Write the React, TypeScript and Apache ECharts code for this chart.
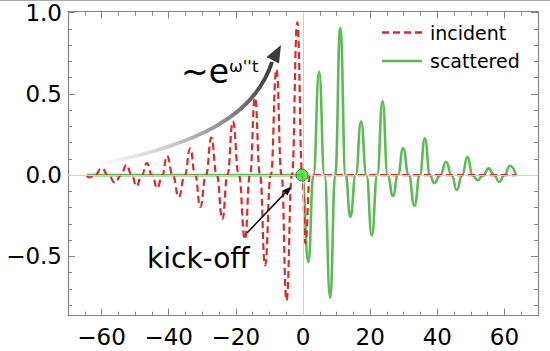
import React, { useEffect, useRef } from "react";
import * as echarts from "echarts";

// Incident wave (red dashed): read extremes / zero crossings from the picture
const incidentX = [-64.5, -63.6, -62.0, -60.0, -58.0, -56.0, -54.2, -52.6, -51.0, -49.6, -48.0, -46.5, -45.0, -43.4, -41.9, -40.5, -38.8, -37.0, -35.2, -33.6, -32.1, -30.6, -28.9, -27.3, -25.7, -24.0, -22.5, -20.9, -19.1, -17.3, -15.8, -14.3, -12.8, -11.3, -9.6, -7.9, -6.4, -4.9, -3.3, -1.7, -0.2, 0.7, 2.1, 3.5, 63.5];
const incidentY = [0, -0.015, 0, 0.042, 0, -0.047, 0, 0.062, 0, -0.068, 0, 0.074, 0, -0.08, 0, 0.118, 0, -0.135, 0, 0.165, 0, -0.196, 0, 0.23, 0, -0.27, 0, 0.33, 0, -0.395, 0, 0.475, 0, -0.555, 0, 0.65, 0, -0.77, 0, 0.94, 0, -0.42, 0, 0, 0];

// Scattered wave (green solid)
const scatteredX = [-64.3, -2.0, -0.3, 1.6, 3.1, 4.8, 6.4, 8.1, 9.6, 11.1, 12.7, 14.1, 15.7, 17.3, 18.9, 20.5, 22.1, 23.7, 25.2, 26.8, 28.3, 29.8, 31.5, 33.2, 34.8, 36.3, 37.8, 39.1, 40.9, 42.6, 44.3, 45.8, 47.4, 49.0, 50.5, 52.0, 53.7, 55.3, 56.9, 58.5, 60.0, 61.6, 63.5];
const scatteredY = [0, 0, 0, -0.535, 0, 0.635, 0, -0.755, 0, 0.905, 0, -0.257, 0, 0.33, 0, -0.372, 0, 0.455, 0, -0.128, 0, 0.165, 0, -0.19, 0, 0.226, 0, -0.05, 0, 0.082, 0, -0.093, 0, 0.113, 0, -0.031, 0, 0.041, 0, -0.041, 0, 0.057, 0];

// kick-off point
const kickX = [-0.3];
const kickY = [0];

// tick labels
const xTickLabels = [-60, -40, -20, 0, 20, 40, 60];
const yTickLabels = [-0.5, 0, 0.5, 1.0];

const legendNames = ["incident", "scattered"];

const FONT = "DejaVu Sans";
const AXIS_COLOR = "#858585";
const RED = "#d92b2b";
const GREEN = "#5dbb55";

export default function App() {
  const ref = useRef<HTMLDivElement>(null);
  useEffect(() => {
    if (!ref.current) return;
    const chart = echarts.init(ref.current, null, { renderer: "svg" });

    const xMinor: number[] = [];
    for (let v = -65; v <= 65; v += 5) xMinor.push(v);
    const yMinor: number[] = [];
    for (let i = -8; i <= 10; i++) yMinor.push(Math.round(i * 10) / 100);

    const fmtX = (v: number) => (v < 0 ? "\u2212" + Math.abs(v) : String(v));
    const fmtY = (v: number) => (v < 0 ? "\u2212" : "") + Math.abs(v).toFixed(1);

    const xBase = { type: "value", min: -70, max: 70, splitLine: { show: false } };
    const yBase = { type: "value", min: -0.865, max: 1.005, splitLine: { show: false } };

    const incData = incidentX.map((x, i) => [x, incidentY[i]]);
    const scaData = scatteredX.map((x, i) => [x, scatteredY[i]]);
    const kickData = kickX.map((x, i) => [x, kickY[i]]);

    chart.setOption({
      animation: false,
      backgroundColor: "#ffffff",
      textStyle: { fontFamily: FONT },
      grid: { left: 68, right: 12, top: 11.7, bottom: 35.3, outerBoundsMode: "none" },
      xAxis: [
        {
          ...xBase,
          position: "bottom",
          axisLine: { show: true, onZero: false, lineStyle: { color: AXIS_COLOR, width: 1.2 } },
          axisTick: { show: true, inside: true, length: 7, customValues: xTickLabels, lineStyle: { color: AXIS_COLOR } },
          axisLabel: { show: true, customValues: xTickLabels, formatter: fmtX, fontFamily: FONT, fontSize: 23, lineHeight: 20, color: "#000", margin: 11 },
        },
        {
          ...xBase,
          position: "bottom",
          axisLine: { show: false, onZero: false },
          axisTick: { show: true, inside: true, length: 4, customValues: xMinor, lineStyle: { color: AXIS_COLOR } },
          axisLabel: { show: false },
        },
        {
          ...xBase,
          position: "top",
          axisLine: { show: true, onZero: false, lineStyle: { color: AXIS_COLOR, width: 1.2 } },
          axisTick: { show: true, inside: true, length: 7, customValues: xTickLabels, lineStyle: { color: AXIS_COLOR } },
          axisLabel: { show: false },
        },
        {
          ...xBase,
          position: "top",
          axisLine: { show: false, onZero: false },
          axisTick: { show: true, inside: true, length: 4, customValues: xMinor, lineStyle: { color: AXIS_COLOR } },
          axisLabel: { show: false },
        },
      ],
      yAxis: [
        {
          ...yBase,
          position: "left",
          axisLine: { show: true, onZero: false, lineStyle: { color: AXIS_COLOR, width: 1.2 } },
          axisTick: { show: true, inside: true, length: 7, customValues: yTickLabels, lineStyle: { color: AXIS_COLOR } },
          axisLabel: { show: true, customValues: yTickLabels, formatter: fmtY, fontFamily: FONT, fontSize: 23, color: "#000", margin: 6 },
        },
        {
          ...yBase,
          position: "left",
          axisLine: { show: false, onZero: false },
          axisTick: { show: true, inside: true, length: 4, customValues: yMinor, lineStyle: { color: AXIS_COLOR } },
          axisLabel: { show: false },
        },
        {
          ...yBase,
          position: "right",
          axisLine: { show: true, onZero: false, lineStyle: { color: AXIS_COLOR, width: 1.2 } },
          axisTick: { show: true, inside: true, length: 7, customValues: yTickLabels, lineStyle: { color: AXIS_COLOR } },
          axisLabel: { show: false },
        },
        {
          ...yBase,
          position: "right",
          axisLine: { show: false, onZero: false },
          axisTick: { show: true, inside: true, length: 4, customValues: yMinor, lineStyle: { color: AXIS_COLOR } },
          axisLabel: { show: false },
        },
      ],
      series: [
        {
          name: "axes0",
          type: "line",
          data: [],
          z: 1,
          silent: true,
          markLine: {
            silent: true,
            symbol: "none",
            label: { show: false },
            lineStyle: { color: "#cfcfcf", width: 1, type: "solid" },
            data: [{ xAxis: 0 }, { yAxis: 0 }],
          },
        },
        {
          name: legendNames[1],
          type: "line",
          data: scaData,
          smooth: 0.5,
          smoothMonotone: "x",
          symbol: "none",
          z: 3,
          lineStyle: { color: GREEN, width: 2.6 },
          itemStyle: { color: GREEN },
        },
        {
          name: legendNames[0],
          type: "line",
          data: incData,
          smooth: 0.5,
          smoothMonotone: "x",
          symbol: "none",
          z: 4,
          lineStyle: { color: RED, width: 2.2, type: [7, 4] },
          itemStyle: { color: RED },
        },
        {
          name: "kick",
          type: "scatter",
          data: kickData,
          symbol: "circle",
          symbolSize: 12,
          z: 6,
          itemStyle: { color: "#2ee82e", borderColor: "#2a5a2a", borderWidth: 1 },
        },
      ],
      graphic: [
        { type: "line", shape: { x1: 0, y1: 0.5, x2: 550, y2: 0.5 }, style: { stroke: "#aaaaaa", lineWidth: 1 } },
        // legend (drawn manually)
        { type: "line", shape: { x1: 382, y1: 32.5, x2: 422, y2: 32.5 }, style: { stroke: RED, lineWidth: 2.4, lineDash: [7, 4] }, z: 10 },
        {
          type: "text", x: 430, y: 32.7,
          style: { text: legendNames[0], fontFamily: FONT, fontSize: 19, fill: "#000", verticalAlign: "middle", align: "left" }, z: 10,
        },
        { type: "line", shape: { x1: 382, y1: 61, x2: 422, y2: 61 }, style: { stroke: GREEN, lineWidth: 2.6 }, z: 10 },
        {
          type: "text", x: 430, y: 61.4,
          style: { text: legendNames[1], fontFamily: FONT, fontSize: 19, fill: "#000", verticalAlign: "middle", align: "left" }, z: 10,
        },
        // exponential growth arrow
        {
          type: "bezierCurve",
          shape: { x1: 95, y1: 165, cpx1: 200, cpy1: 145, cpx2: 255, cpy2: 115, x2: 272, y2: 62 },
          style: {
            fill: null,
            lineWidth: 4,
            stroke: new echarts.graphic.LinearGradient(0, 0, 1, 0, [
              { offset: 0, color: "#ffffff" },
              { offset: 0.4, color: "#d0d0d0" },
              { offset: 0.75, color: "#8a8a8a" },
              { offset: 1, color: "#3a3a3a" },
            ]),
          },
          z: 10,
        },
        { type: "polygon", shape: { points: [[281, 45], [266.5, 57], [279, 63.5]] }, style: { fill: "#3a3a3a" }, z: 10 },
        {
          type: "text", x: 181, y: 71.5,
          style: { text: "~e", fontFamily: FONT, fontSize: 33, fill: "#000", verticalAlign: "middle", align: "left" }, z: 10,
        },
        {
          type: "text", x: 229, y: 66.5,
          style: { text: "\u03c9''t", fontFamily: FONT, fontSize: 16.5, fill: "#000", verticalAlign: "middle", align: "left" }, z: 10,
        },
        // kick-off annotation
        {
          type: "text", x: 147, y: 258,
          style: { text: "kick-off", fontFamily: FONT, fontSize: 28, fill: "#000", verticalAlign: "middle", align: "left" }, z: 10,
        },
        { type: "line", shape: { x1: 247, y1: 233, x2: 287, y2: 191 }, style: { stroke: "#000", lineWidth: 1.5 }, z: 10 },
        { type: "polygon", shape: { points: [[291.5, 186.5], [282.5, 190.5], [287.5, 195.5]] }, style: { fill: "#000" }, z: 10 },
      ],
    });
    return () => chart.dispose();
  }, []);
  return <div ref={ref} style={{ width: 550, height: 351, position: "absolute", left: 0, top: 0 }} />;
}
